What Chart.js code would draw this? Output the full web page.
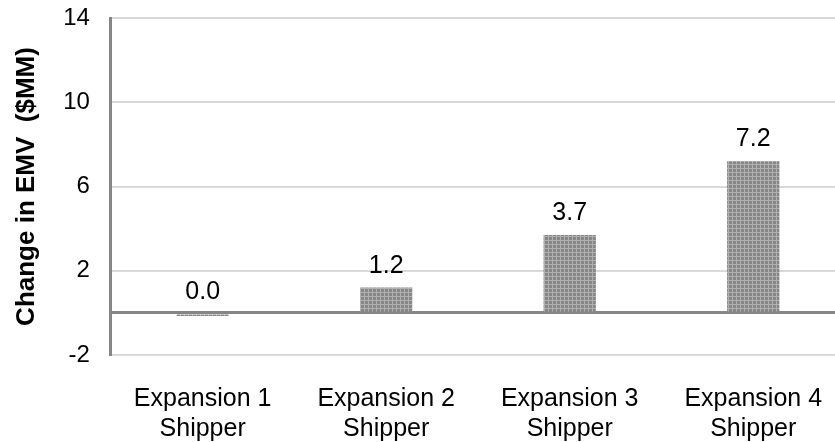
<!DOCTYPE html>
<html>
<head>
<meta charset="utf-8">
<script src="https://cdn.jsdelivr.net/npm/chart.js@4/dist/chart.umd.min.js"></script>
<style>
  html, body { margin: 0; padding: 0; background: #ffffff; overflow: hidden; }
  #wrap { width: 845px; height: 442px; position: relative; }
</style>
</head>
<body>
<div id="wrap"><canvas id="chart"></canvas></div>
<script>
// Categories (two-line labels) and values, $MM
const categories = [
  ['Expansion 1', 'Shipper'],
  ['Expansion 2', 'Shipper'],
  ['Expansion 3', 'Shipper'],
  ['Expansion 4', 'Shipper']
];
const emvChange = [-0.04, 1.2, 3.7, 7.2];
// Value-axis ticks; 0 carries the baseline only
const tickValues = [-2, 0, 2, 6, 10, 14];
const tickLabels = ['-2', '', '2', '6', '10', '14'];

const FONT = "'Liberation Sans', Arial, sans-serif";

// Fine grey mesh fill for the bars
function meshPattern() {
  const c = document.createElement('canvas');
  c.width = 4; c.height = 4;
  const g = c.getContext('2d');
  g.fillStyle = '#878787';
  g.fillRect(0, 0, 4, 4);
  g.fillStyle = '#b0b0b0';
  g.fillRect(0, 0, 4, 1);
  g.fillRect(0, 0, 1, 4);
  return g.createPattern(c, 'repeat');
}

// Value labels above each bar (above the baseline for negatives)
const valueLabels = {
  id: 'valueLabels',
  afterDatasetsDraw(chart) {
    const ctx = chart.ctx;
    const meta = chart.getDatasetMeta(0);
    ctx.save();
    ctx.font = '25px ' + FONT;
    ctx.fillStyle = '#000000';
    ctx.textAlign = 'center';
    ctx.textBaseline = 'alphabetic';
    meta.data.forEach((bar, i) => {
      const v = chart.data.datasets[0].data[i];
      const txt = (Math.round(v * 10) / 10 + 0).toFixed(1);
      const top = Math.min(bar.y, bar.base);
      ctx.fillText(txt, bar.x, top - 15);
    });
    ctx.restore();
  }
};

new Chart(document.getElementById('chart'), {
  type: 'bar',
  data: {
    labels: categories,
    datasets: [{
      data: emvChange,
      backgroundColor: meshPattern(),
      borderWidth: 0,
      minBarLength: 3,
      categoryPercentage: 1,
      barPercentage: 0.285
    }]
  },
  options: {
    responsive: true,
    maintainAspectRatio: false,
    animation: false,
    layout: { padding: { left: 0, top: 18, right: 0, bottom: 0 } },
    plugins: { legend: { display: false }, tooltip: { enabled: false } },
    scales: {
      x: {
        grid: { display: false },
        border: { display: false },
        afterFit(scale) {
          scale.height = 87;
        },
        ticks: {
          color: '#000000',
          font: { family: FONT, size: 25, lineHeight: 1.2 },
          padding: 21,
          maxRotation: 0,
          autoSkip: false
        }
      },
      y: {
        min: -2,
        max: 14,
        afterBuildTicks(scale) {
          scale.ticks = tickValues.map(v => ({ value: v }));
        },
        afterFit(scale) {
          scale.paddingTop = 0;
          scale.paddingBottom = 0;
        },
        grid: {
          drawTicks: false,
          color: ctx => (ctx.tick && ctx.tick.value === 0) ? '#868686' : '#d9d9d9',
          lineWidth: ctx => (ctx.tick && ctx.tick.value === 0) ? 3 : 2
        },
        border: { display: true, color: '#868686', width: 3 },
        ticks: {
          color: '#000000',
          font: { family: FONT, size: 24 },
          padding: 21,
          callback: (value) => tickLabels[tickValues.indexOf(value)]
        },
        title: {
          display: true,
          text: 'Change in EMV  ($MM)',
          color: '#000000',
          font: { family: FONT, size: 26, weight: 'bold' },
          padding: { top: 11, bottom: 0 }
        }
      }
    }
  },
  plugins: [valueLabels]
});
</script>
</body>
</html>
